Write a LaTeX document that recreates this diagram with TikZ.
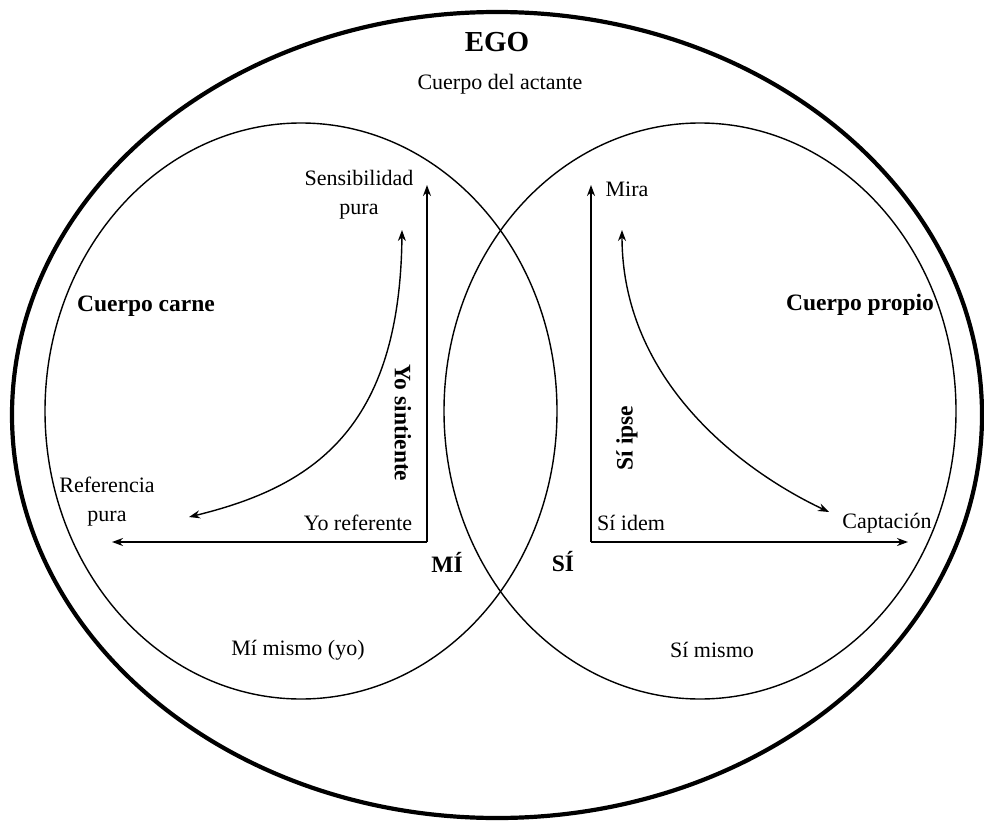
\documentclass[tikz,border=0pt]{standalone}
\usepackage{fontspec}
\setmainfont{Liberation Serif}
\usetikzlibrary{arrows.meta}
\begin{document}
\begin{tikzpicture}[x=1pt,y=-1pt,
  lbl/.style={font=\fontsize{22}{29}\selectfont, inner sep=0pt, align=center},
  blbl/.style={font=\fontsize{23.5}{26}\selectfont\bfseries, inner sep=0pt},
  egolbl/.style={font=\fontsize{29}{30}\selectfont\bfseries, inner sep=0pt},
  axisarrow/.style={line width=1.8pt, -{Stealth[length=11pt,width=8pt]}},
  curvearrow/.style={line width=1.4pt, {Stealth[length=11pt,width=8pt]}-{Stealth[length=11pt,width=8pt]}},
  outerline/.style={line width=4.2pt},
  innerline/.style={line width=1.4pt}
]
\useasboundingbox (0,0) rectangle (984,821);

% ellipses
\draw[outerline] (497,415) ellipse [x radius=485pt, y radius=403pt];
\draw[innerline] (301,411) ellipse [x radius=256pt, y radius=288pt];
\draw[innerline] (700,411) ellipse [x radius=256pt, y radius=288pt];

% titles
\node[egolbl] (ego) at (497,42) {EGO};
\node[lbl] (actante) at (500,84) {Cuerpo del actante};
\node[blbl] (carne) at (146,306) {Cuerpo carne};
\node[blbl] (propio) at (860,305) {Cuerpo propio};

% left axes
\coordinate (mcorner) at (427,542);
\coordinate (mleft) at (112,542);
\coordinate (mtop) at (427,185);
\draw[axisarrow] (mcorner) -- (mleft);
\draw[axisarrow] (mcorner) -- (mtop);

% right axes
\coordinate (scorner) at (591,542);
\coordinate (sright) at (908,542);
\coordinate (stop) at (591,185);
\draw[axisarrow] (scorner) -- (sright);
\draw[axisarrow] (scorner) -- (stop);

% curves
\coordinate (lctop) at (402,230);
\coordinate (lcbot) at (189,517);
\draw[curvearrow] (lctop) .. controls (400,430) and (312,487) .. (lcbot);
\coordinate (rctop) at (622,230);
\coordinate (rcbot) at (829,512);
\draw[curvearrow] (rctop) .. controls (622,380) and (740,470) .. (rcbot);

% left labels
\node[lbl] (sensib) at (359,195) {Sensibilidad\\pura};
\node[lbl] (refer) at (107,502) {Referencia\\pura};
\node[lbl] (yoref) at (358,523) {Yo referente};
\node[blbl, rotate=-90] (yosint) at (403,423) {Yo sintiente};
\node[blbl] (mi) at (447,562) {MÍ};
\node[lbl] (mimismo) at (298,650) {Mí mismo (yo)};

% right labels
\node[lbl] (mira) at (627,189) {Mira};
\node[blbl, rotate=90] (siipse) at (627,438) {Sí ipse};
\node[lbl] (siidem) at (631,523) {Sí idem};
\node[lbl] (captacion) at (887,523) {Captación};
\node[blbl] (si) at (563,562) {SÍ};
\node[lbl] (simismo) at (712,650) {Sí mismo};
\end{tikzpicture}
\end{document}
